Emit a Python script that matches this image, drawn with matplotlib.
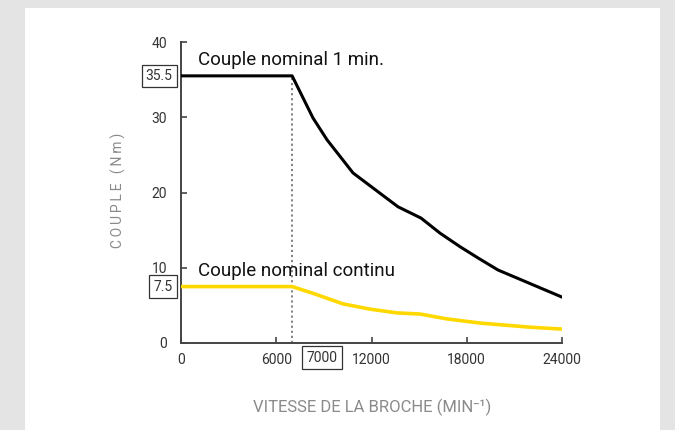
import matplotlib
matplotlib.use("Agg")
import matplotlib.pyplot as plt
from matplotlib.patches import Rectangle

# Data
peak_speed = [0, 7000, 8315, 9200, 10835, 13670, 15120, 16315, 17575, 18710, 19970, 24000]
peak_torque = [35.5, 35.5, 29.9, 27.0, 22.6, 18.1, 16.6, 14.6, 12.8, 11.3, 9.7, 6.1]
cont_speed = [0, 7000, 8315, 10205, 11906, 13606, 15055, 16756, 18835, 21984, 24000]
cont_torque = [7.5, 7.5, 6.6, 5.2, 4.5, 4.0, 3.85, 3.2, 2.65, 2.1, 1.85]
x_ticks = [0, 6000, 12000, 18000, 24000]
y_ticks = [0, 10, 20, 30, 40]
base_speed = 7000
peak_label = "Couple nominal 1 min."
cont_label = "Couple nominal continu"

plt.rcParams['font.family'] = ['Roboto', 'DejaVu Sans']

fig = plt.figure(figsize=(6.75, 4.3), dpi=100)
fig.patch.set_facecolor('#e4e4e4')
bg = Rectangle((25/675, 0), 635/675, 422/430, transform=fig.transFigure,
               facecolor='white', edgecolor='none', zorder=-5)
fig.add_artist(bg)

ax = fig.add_axes([181/675, 87/430, 381/675, 301/430])
ax.set_zorder(1)
ax.set_facecolor('none')
ax.set_xlim(0, 24000)
ax.set_ylim(0, 40)

ax.plot(peak_speed, peak_torque, color='black', lw=2.2, solid_joinstyle='round', zorder=3)
ax.plot(cont_speed, cont_torque, color='#ffd800', lw=2.6, solid_joinstyle='round', zorder=3)
ax.plot([base_speed, base_speed], [0, peak_torque[0]], color='#777777', lw=1.3,
        linestyle=(0, (1.2, 1.6)), zorder=2)

for s in ['top', 'right']:
    ax.spines[s].set_visible(False)
for s in ['left', 'bottom']:
    ax.spines[s].set_color('#444444')
    ax.spines[s].set_linewidth(1.4)

ax.set_xticks(x_ticks)
ax.set_yticks(y_ticks)
ax.tick_params(direction='in', length=4, width=1.2, color='#444444',
               labelsize=10, labelcolor='#333333')
ax.tick_params(axis='y', pad=10)
ax.tick_params(axis='x', pad=7)

box = dict(boxstyle='square,pad=0.3', facecolor='white', edgecolor='#333333', lw=0.9)
ax.annotate(f"{peak_torque[0]}", xy=(0, peak_torque[0]), xycoords=ax.get_yaxis_transform(),
            xytext=(-6, 0), textcoords='offset points', ha='right', va='center',
            fontsize=10, color='#333333', bbox=box, annotation_clip=False)
ax.annotate(f"{cont_torque[0]}", xy=(0, cont_torque[0]), xycoords=ax.get_yaxis_transform(),
            xytext=(-6, 0), textcoords='offset points', ha='right', va='center',
            fontsize=10, color='#333333', bbox=box, annotation_clip=False)
ax.annotate(f"{base_speed}", xy=(base_speed, 0), xycoords=ax.get_xaxis_transform(),
            xytext=(21.5, -10.5), textcoords='offset points', ha='center', va='center',
            fontsize=10, color='#333333', bbox=box, annotation_clip=False)

ax.text(1100, 37.6, peak_label, fontsize=13.5, color='#111111', va='center', ha='left')
ax.text(1100, 9.6, cont_label, fontsize=13.5, color='#111111', va='center', ha='left')

sp = "\u2009"
fig.text(118/675, 1 - 190/430, sp.join("COUPLE (Nm)"), rotation=90, ha='center', va='center',
         fontsize=10, color='#8a8a8a')
fig.text(372/675, 1 - 407/430, "VITESSE DE LA BROCHE (MIN⁻¹)", ha='center', va='center',
         fontsize=12, color='#8a8a8a')

fig.savefig('out.png', dpi=100, facecolor=fig.get_facecolor())
